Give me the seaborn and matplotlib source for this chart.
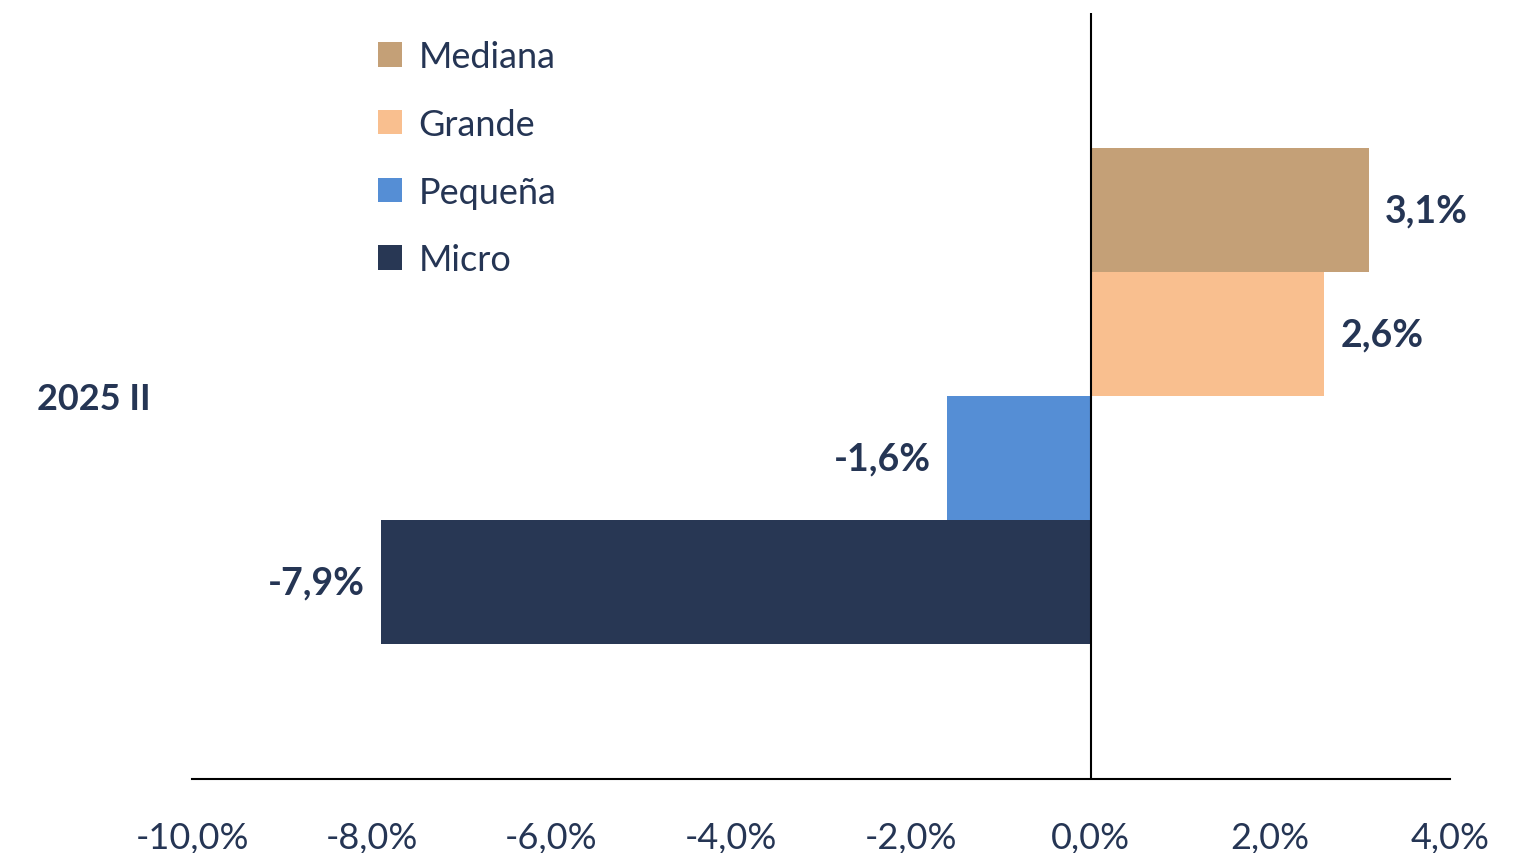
import matplotlib
matplotlib.use('Agg')
import matplotlib.pyplot as plt
import seaborn as sns
import pandas as pd
from matplotlib.ticker import FuncFormatter

# data
periodo = ['2025 II']
tamanos = ['Mediana', 'Grande', 'Pequeña', 'Micro']
variacion = [3.1, 2.6, -1.6, -7.9]
colores = ['#C4A077', '#F9BF8F', '#558ED5', '#283754']
xticks = [-10, -8, -6, -4, -2, 0, 2, 4]

text_color = '#253554'

df = pd.DataFrame({
    'periodo': periodo * len(tamanos),
    'tamano': tamanos,
    'valor': variacion,
})

sns.set_theme(style='white')
plt.rcParams['font.family'] = ['Lato', 'DejaVu Sans']

fig = plt.figure(figsize=(15.33, 8.54), dpi=100)
ax = fig.add_axes([192 / 1533, 1 - 780 / 854, (1450 - 192) / 1533, (780 - 14) / 854])

sns.barplot(data=df, x='valor', y='periodo', hue='tamano', hue_order=tamanos,
            palette=colores, orient='h', width=0.8, saturation=1, linewidth=0,
            ax=ax)

ax.set_xlim(-10, 4)
ax.set_ylim(0.6177, -0.6177)
ax.set_xticks(xticks)
ax.xaxis.set_major_formatter(FuncFormatter(lambda v, _: f'{v:.1f}%'.replace('.', ',')))
ax.tick_params(axis='x', length=0, pad=30, labelsize=26, labelcolor=text_color)
ax.tick_params(axis='y', length=0, pad=30, labelsize=26, labelcolor=text_color)
for lbl in ax.get_yticklabels():
    lbl.set_fontweight('bold')
ax.set_xlabel('')
ax.set_ylabel('')

for side in ['top', 'right', 'left']:
    ax.spines[side].set_visible(False)
ax.spines['bottom'].set_color('black')
ax.spines['bottom'].set_linewidth(1.5)
ax.axvline(0, color='black', lw=1.5)

# data labels
for cont in ax.containers:
    for bar in cont:
        w = bar.get_width()
        yc = bar.get_y() + bar.get_height() / 2
        txt = f'{w:.1f}%'.replace('.', ',')
        if w >= 0:
            ax.text(w + 0.18, yc, txt, ha='left', va='center', fontsize=27,
                    fontweight='bold', color=text_color)
        else:
            ax.text(w - 0.18, yc, txt, ha='right', va='center', fontsize=27,
                    fontweight='bold', color=text_color)

leg = ax.legend(loc='upper left', bbox_to_anchor=((378 - 192) / 1258, 0.9645),
                frameon=False, fontsize=26, handlelength=0.67, handleheight=0.67,
                handletextpad=0.45, labelspacing=0.96, borderpad=0, borderaxespad=0,
                labelcolor=text_color)

fig.savefig('out.png', dpi=100)
